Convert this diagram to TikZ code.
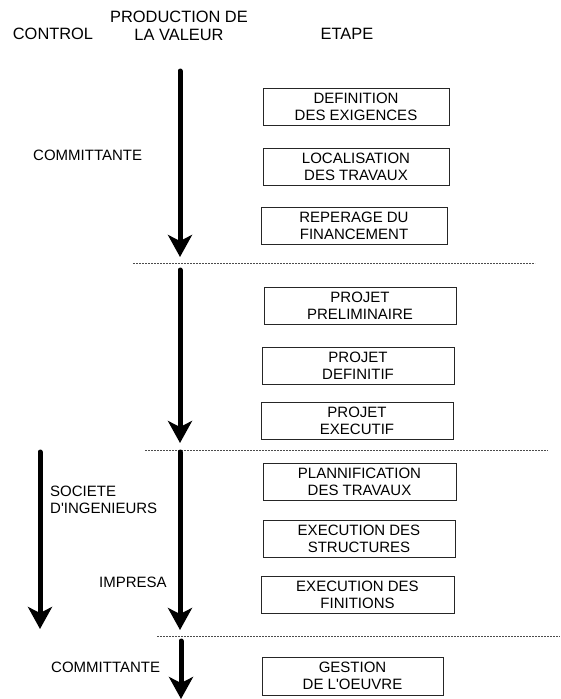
\documentclass[tikz,border=0pt]{standalone}
\usepackage{fontspec}
\setmainfont{Liberation Sans}
\usetikzlibrary{arrows.meta}
\begin{document}
\begin{tikzpicture}[x=1pt,y=-1pt,
  every node/.style={font=\fontsize{15}{17}\selectfont, inner sep=0pt},
  heading/.style={font=\fontsize{16.4}{18.5}\selectfont, align=center},
  stage/.style={draw=black!85, line width=0.8pt, align=center, minimum height=37pt},
  label/.style={align=left, anchor=west},
  flow/.style={line width=5pt, line cap=round,
    -{Stealth[length=22pt, width=24pt, inset=6pt]}},
  sep/.style={draw=black!70, line width=0.6pt, dash pattern=on 2pt off 1pt}]
\useasboundingbox (0,0) rectangle (560,699);

% column headings
\node[heading] (hctl) at (53,34) {CONTROL};
\node[heading] (hprod) at (179,26) {PRODUCTION DE\\LA VALEUR};
\node[heading] (hstep) at (347,34) {ETAPE};

% stages
\node[stage, minimum width=186pt] (s1) at (356,106.5) {DEFINITION\\DES EXIGENCES};
\node[stage, minimum width=186pt] (s2) at (356,166.5) {LOCALISATION\\DES TRAVAUX};
\node[stage, minimum width=186pt] (s3) at (354,225.5) {REPERAGE DU\\FINANCEMENT};
\node[stage, minimum width=192pt] (s4) at (360,305.5) {PROJET\\PRELIMINAIRE};
\node[stage, minimum width=192pt] (s5) at (358,365.5) {PROJET\\DEFINITIF};
\node[stage, minimum width=192pt] (s6) at (357,420.5) {PROJET\\EXECUTIF};
\node[stage, minimum width=193pt] (s7) at (359.5,481.5) {PLANNIFICATION\\DES TRAVAUX};
\node[stage, minimum width=192pt] (s8) at (359,538.5) {EXECUTION DES\\STRUCTURES};
\node[stage, minimum width=193pt] (s9) at (357.5,594.5) {EXECUTION DES\\FINITIONS};
\node[stage, minimum width=181pt, minimum height=38pt] (s10) at (352.5,676) {GESTION\\DE L\textquotesingle OEUVRE};

% actors
\node[label] (c1) at (33,155) {COMMITTANTE};
\node[label] (soc) at (50,499.5) {SOCIETE\\D\textquotesingle INGENIEURS};
\node[label] (imp) at (99,582) {IMPRESA};
\node[label] (c2) at (51,667) {COMMITTANTE};

% phase separators
\coordinate (d1a) at (133,263); \coordinate (d1b) at (535,263);
\coordinate (d2a) at (145,450); \coordinate (d2b) at (548,450);
\coordinate (d3a) at (157,636); \coordinate (d3b) at (560,636);
\draw[sep] (d1a) -- (d1b);
\draw[sep] (d2a) -- (d2b);
\draw[sep] (d3a) -- (d3b);

% value production arrows
\coordinate (p1s) at (180,71);  \coordinate (p1e) at (180,257);
\coordinate (p2s) at (180,270); \coordinate (p2e) at (180,443);
\coordinate (p3s) at (180,452); \coordinate (p3e) at (180,630);
\coordinate (p4s) at (181,641); \coordinate (p4e) at (181,699);
\draw[flow] (p1s) -- (p1e);
\draw[flow] (p2s) -- (p2e);
\draw[flow] (p3s) -- (p3e);
\draw[flow] (p4s) -- (p4e);

% control arrow
\coordinate (k1s) at (40,452); \coordinate (k1e) at (40,629);
\draw[flow] (k1s) -- (k1e);
\end{tikzpicture}
\end{document}
